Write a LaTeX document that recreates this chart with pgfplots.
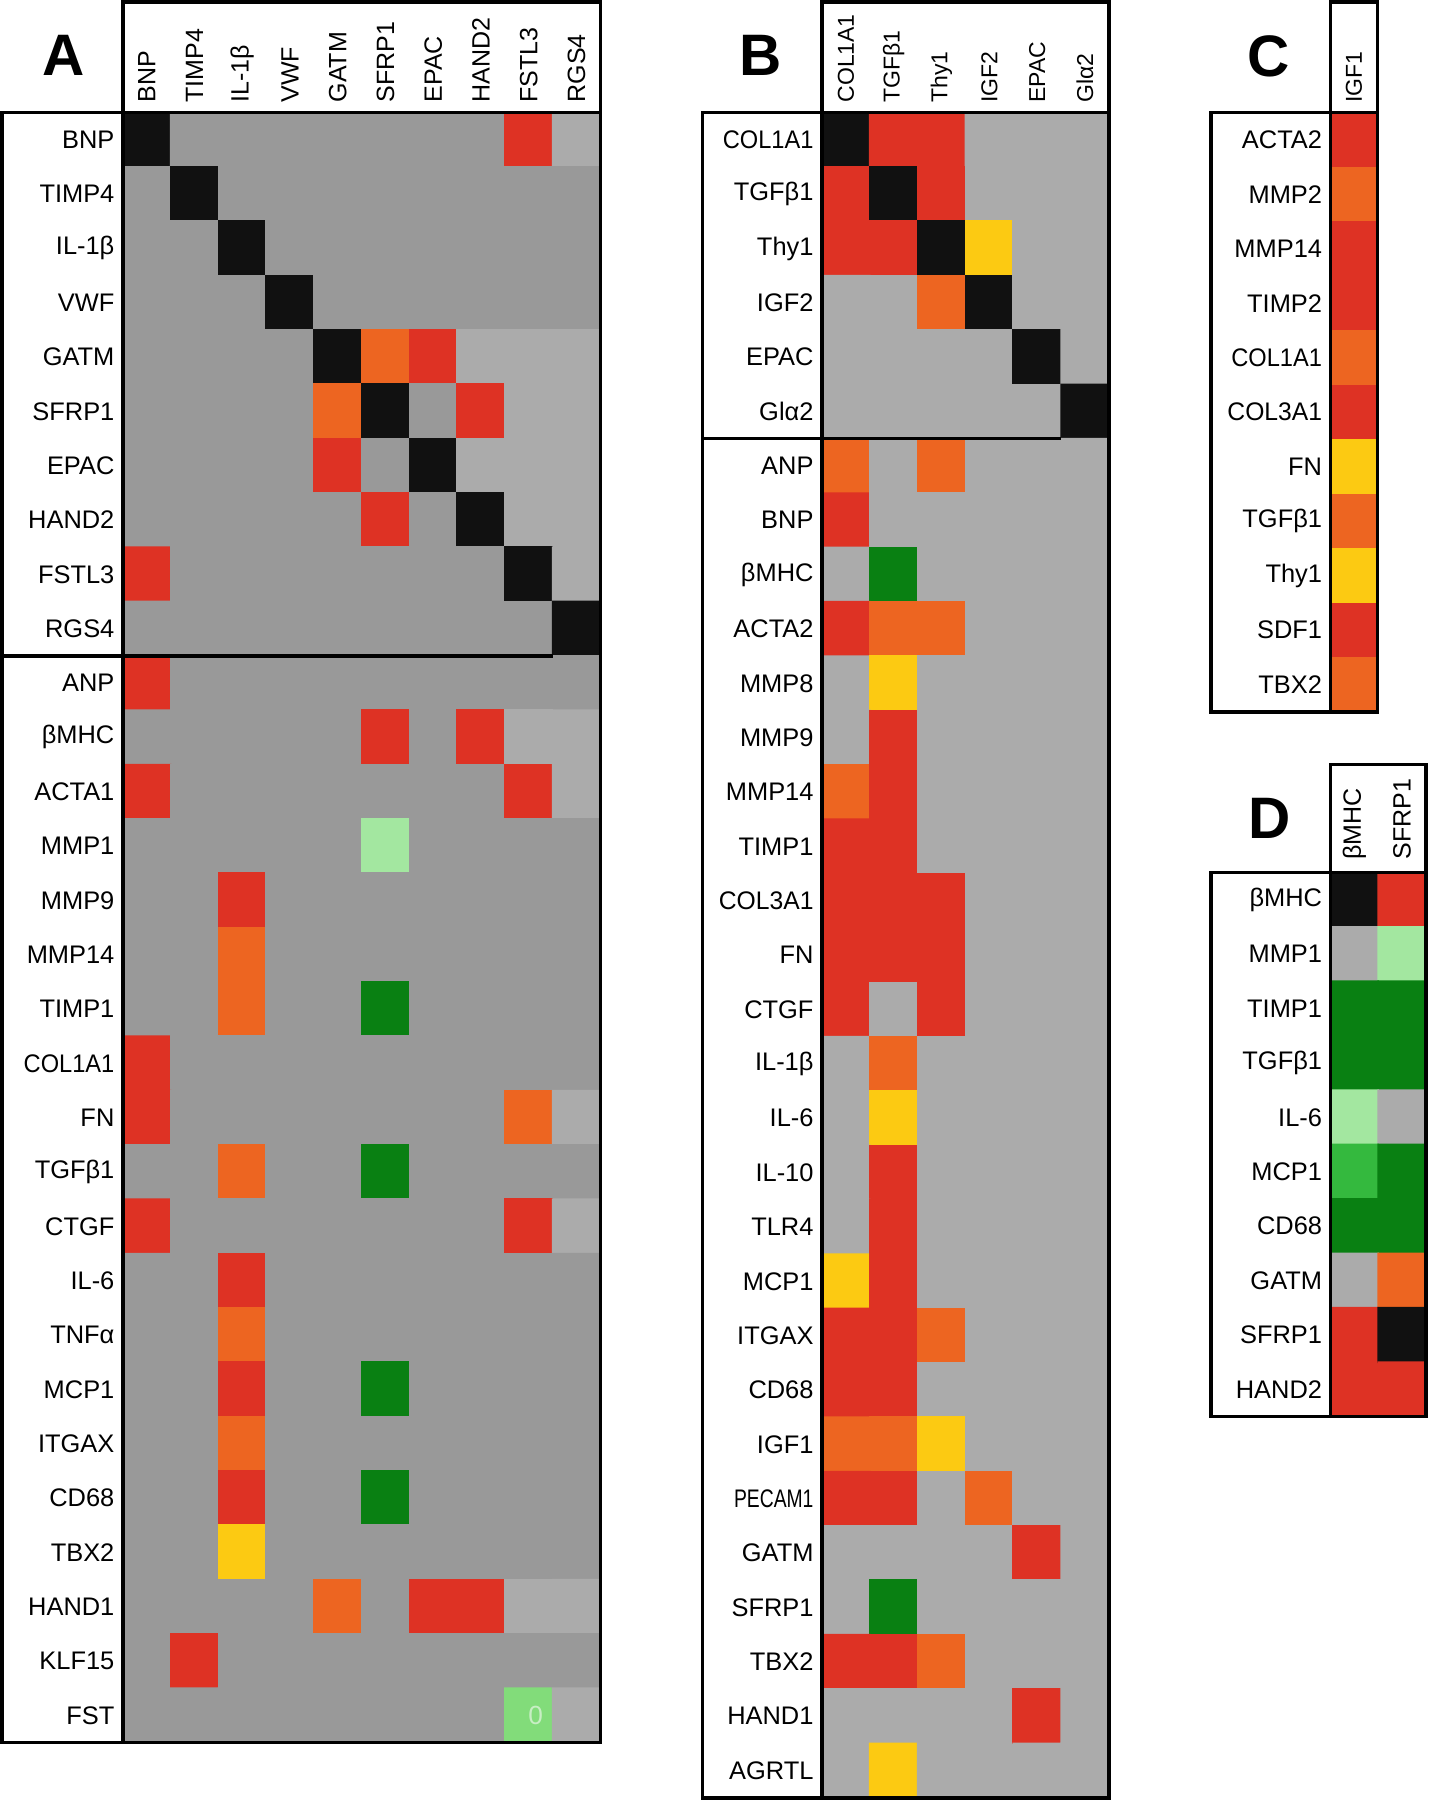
\documentclass[border=0pt]{standalone}
\usepackage{pgfplots}
\pgfplotsset{compat=1.18}
\usepackage{fontspec}
\setmainfont{Liberation Sans}
\definecolor{hred}{RGB}{222,50,36}
\definecolor{hora}{RGB}{237,101,33}
\definecolor{hyel}{RGB}{252,202,18}
\definecolor{zerotxt}{RGB}{200,238,196}
\newcommand{\sq}[2]{\scalebox{#1}[1]{#2}}
\pgfplotsset{
  hm/.style={
    scale only axis, axis on top, enlargelimits=false, y dir=reverse,
    axis line style={line width=0.9pt, black},
    major tick length=0pt, tick style={draw=none},
    xticklabel pos=upper,
    xticklabel style={rotate=90, anchor=west, inner xsep=0pt},
    xticklabel shift=2.3pt,
    yticklabel style={anchor=east, inner xsep=0pt, font=\fontsize{6.3}{7}\selectfont},
    yticklabel shift=1.9pt,
    colormap={hm}{rgb255=(153,153,153) rgb255=(171,171,171) rgb255=(17,17,17) rgb255=(222,50,36) rgb255=(237,101,33) rgb255=(252,202,18) rgb255=(9,128,18) rgb255=(163,231,160) rgb255=(52,185,62) rgb255=(130,220,122)},
    colormap access=direct,
  },
}
\begin{document}
\begin{tikzpicture}
\useasboundingbox (0,0) rectangle (124.4mm,-156.8mm);
% ---------------- Panel A ----------------
\begin{axis}[hm, at={(31.5mm,-80.8mm)}, anchor=center,
  width=41.6mm, height=142.0mm,
  xmin=-0.5, xmax=9.5, ymin=-0.5, ymax=29.5,
  xtick={0,...,9}, ytick={0,...,29},
  xticklabel style={font=\fontsize{6.2}{7}\selectfont},
  xticklabels={BNP,TIMP4,IL-1β,VWF,GATM,SFRP1,EPAC,HAND2,FSTL3,RGS4},
  yticklabels={BNP,TIMP4,IL-1β,VWF,GATM,SFRP1,EPAC,HAND2,FSTL3,RGS4,ANP,βMHC,ACTA1,MMP1,MMP9,MMP14,TIMP1,\sq{0.93}{COL1A1},FN,TGFβ1,CTGF,IL-6,TNFα,MCP1,ITGAX,CD68,TBX2,HAND1,KLF15,FST},
]
\addplot[matrix plot*, shader=flat corner, mesh/cols=10, point meta=explicit] coordinates {
(0,0)[2] (1,0)[0] (2,0)[0] (3,0)[0] (4,0)[0] (5,0)[0] (6,0)[0] (7,0)[0] (8,0)[3] (9,0)[1]
(0,1)[0] (1,1)[2] (2,1)[0] (3,1)[0] (4,1)[0] (5,1)[0] (6,1)[0] (7,1)[0] (8,1)[0] (9,1)[0]
(0,2)[0] (1,2)[0] (2,2)[2] (3,2)[0] (4,2)[0] (5,2)[0] (6,2)[0] (7,2)[0] (8,2)[0] (9,2)[0]
(0,3)[0] (1,3)[0] (2,3)[0] (3,3)[2] (4,3)[0] (5,3)[0] (6,3)[0] (7,3)[0] (8,3)[0] (9,3)[0]
(0,4)[0] (1,4)[0] (2,4)[0] (3,4)[0] (4,4)[2] (5,4)[4] (6,4)[3] (7,4)[1] (8,4)[1] (9,4)[1]
(0,5)[0] (1,5)[0] (2,5)[0] (3,5)[0] (4,5)[4] (5,5)[2] (6,5)[0] (7,5)[3] (8,5)[1] (9,5)[1]
(0,6)[0] (1,6)[0] (2,6)[0] (3,6)[0] (4,6)[3] (5,6)[0] (6,6)[2] (7,6)[1] (8,6)[1] (9,6)[1]
(0,7)[0] (1,7)[0] (2,7)[0] (3,7)[0] (4,7)[0] (5,7)[3] (6,7)[0] (7,7)[2] (8,7)[1] (9,7)[1]
(0,8)[3] (1,8)[0] (2,8)[0] (3,8)[0] (4,8)[0] (5,8)[0] (6,8)[0] (7,8)[0] (8,8)[2] (9,8)[1]
(0,9)[0] (1,9)[0] (2,9)[0] (3,9)[0] (4,9)[0] (5,9)[0] (6,9)[0] (7,9)[0] (8,9)[0] (9,9)[2]
(0,10)[3] (1,10)[0] (2,10)[0] (3,10)[0] (4,10)[0] (5,10)[0] (6,10)[0] (7,10)[0] (8,10)[0] (9,10)[0]
(0,11)[0] (1,11)[0] (2,11)[0] (3,11)[0] (4,11)[0] (5,11)[3] (6,11)[0] (7,11)[3] (8,11)[1] (9,11)[1]
(0,12)[3] (1,12)[0] (2,12)[0] (3,12)[0] (4,12)[0] (5,12)[0] (6,12)[0] (7,12)[0] (8,12)[3] (9,12)[1]
(0,13)[0] (1,13)[0] (2,13)[0] (3,13)[0] (4,13)[0] (5,13)[7] (6,13)[0] (7,13)[0] (8,13)[0] (9,13)[0]
(0,14)[0] (1,14)[0] (2,14)[3] (3,14)[0] (4,14)[0] (5,14)[0] (6,14)[0] (7,14)[0] (8,14)[0] (9,14)[0]
(0,15)[0] (1,15)[0] (2,15)[4] (3,15)[0] (4,15)[0] (5,15)[0] (6,15)[0] (7,15)[0] (8,15)[0] (9,15)[0]
(0,16)[0] (1,16)[0] (2,16)[4] (3,16)[0] (4,16)[0] (5,16)[6] (6,16)[0] (7,16)[0] (8,16)[0] (9,16)[0]
(0,17)[3] (1,17)[0] (2,17)[0] (3,17)[0] (4,17)[0] (5,17)[0] (6,17)[0] (7,17)[0] (8,17)[0] (9,17)[0]
(0,18)[3] (1,18)[0] (2,18)[0] (3,18)[0] (4,18)[0] (5,18)[0] (6,18)[0] (7,18)[0] (8,18)[4] (9,18)[1]
(0,19)[0] (1,19)[0] (2,19)[4] (3,19)[0] (4,19)[0] (5,19)[6] (6,19)[0] (7,19)[0] (8,19)[0] (9,19)[0]
(0,20)[3] (1,20)[0] (2,20)[0] (3,20)[0] (4,20)[0] (5,20)[0] (6,20)[0] (7,20)[0] (8,20)[3] (9,20)[1]
(0,21)[0] (1,21)[0] (2,21)[3] (3,21)[0] (4,21)[0] (5,21)[0] (6,21)[0] (7,21)[0] (8,21)[0] (9,21)[0]
(0,22)[0] (1,22)[0] (2,22)[4] (3,22)[0] (4,22)[0] (5,22)[0] (6,22)[0] (7,22)[0] (8,22)[0] (9,22)[0]
(0,23)[0] (1,23)[0] (2,23)[3] (3,23)[0] (4,23)[0] (5,23)[6] (6,23)[0] (7,23)[0] (8,23)[0] (9,23)[0]
(0,24)[0] (1,24)[0] (2,24)[4] (3,24)[0] (4,24)[0] (5,24)[0] (6,24)[0] (7,24)[0] (8,24)[0] (9,24)[0]
(0,25)[0] (1,25)[0] (2,25)[3] (3,25)[0] (4,25)[0] (5,25)[6] (6,25)[0] (7,25)[0] (8,25)[0] (9,25)[0]
(0,26)[0] (1,26)[0] (2,26)[5] (3,26)[0] (4,26)[0] (5,26)[0] (6,26)[0] (7,26)[0] (8,26)[0] (9,26)[0]
(0,27)[0] (1,27)[0] (2,27)[0] (3,27)[0] (4,27)[4] (5,27)[0] (6,27)[3] (7,27)[3] (8,27)[1] (9,27)[1]
(0,28)[0] (1,28)[3] (2,28)[0] (3,28)[0] (4,28)[0] (5,28)[0] (6,28)[0] (7,28)[0] (8,28)[0] (9,28)[0]
(0,29)[0] (1,29)[0] (2,29)[0] (3,29)[0] (4,29)[0] (5,29)[0] (6,29)[0] (7,29)[0] (8,29)[9] (9,29)[1]
};
\node[text=zerotxt, font=\fontsize{6.5}{7}\selectfont, xshift=0.6mm] at (axis cs:8,29) {0};
\end{axis}
% ---------------- Panel B ----------------
\begin{axis}[hm, at={(84.1mm,-83.2mm)}, anchor=center,
  width=25.0mm, height=146.8mm,
  xmin=-0.5, xmax=5.5, ymin=-0.5, ymax=30.5,
  xtick={0,...,5}, ytick={0,...,30},
  xticklabel style={font=\fontsize{5.7}{6}\selectfont},
  xticklabels={COL1A1,TGFβ1,Thy1,IGF2,EPAC,Glα2},
  yticklabels={\sq{0.93}{COL1A1},TGFβ1,Thy1,IGF2,EPAC,Glα2,ANP,BNP,βMHC,ACTA2,MMP8,MMP9,MMP14,TIMP1,\sq{0.97}{COL3A1},FN,CTGF,IL-1β,IL-6,IL-10,TLR4,MCP1,ITGAX,CD68,IGF1,\sq{0.76}{PECAM1},GATM,SFRP1,TBX2,HAND1,AGRTL},
]
\addplot[matrix plot*, shader=flat corner, mesh/cols=6, point meta=explicit] coordinates {
(0,0)[2] (1,0)[3] (2,0)[3] (3,0)[1] (4,0)[1] (5,0)[1]
(0,1)[3] (1,1)[2] (2,1)[3] (3,1)[1] (4,1)[1] (5,1)[1]
(0,2)[3] (1,2)[3] (2,2)[2] (3,2)[5] (4,2)[1] (5,2)[1]
(0,3)[1] (1,3)[1] (2,3)[4] (3,3)[2] (4,3)[1] (5,3)[1]
(0,4)[1] (1,4)[1] (2,4)[1] (3,4)[1] (4,4)[2] (5,4)[1]
(0,5)[1] (1,5)[1] (2,5)[1] (3,5)[1] (4,5)[1] (5,5)[2]
(0,6)[4] (1,6)[1] (2,6)[4] (3,6)[1] (4,6)[1] (5,6)[1]
(0,7)[3] (1,7)[1] (2,7)[1] (3,7)[1] (4,7)[1] (5,7)[1]
(0,8)[1] (1,8)[6] (2,8)[1] (3,8)[1] (4,8)[1] (5,8)[1]
(0,9)[3] (1,9)[4] (2,9)[4] (3,9)[1] (4,9)[1] (5,9)[1]
(0,10)[1] (1,10)[5] (2,10)[1] (3,10)[1] (4,10)[1] (5,10)[1]
(0,11)[1] (1,11)[3] (2,11)[1] (3,11)[1] (4,11)[1] (5,11)[1]
(0,12)[4] (1,12)[3] (2,12)[1] (3,12)[1] (4,12)[1] (5,12)[1]
(0,13)[3] (1,13)[3] (2,13)[1] (3,13)[1] (4,13)[1] (5,13)[1]
(0,14)[3] (1,14)[3] (2,14)[3] (3,14)[1] (4,14)[1] (5,14)[1]
(0,15)[3] (1,15)[3] (2,15)[3] (3,15)[1] (4,15)[1] (5,15)[1]
(0,16)[3] (1,16)[1] (2,16)[3] (3,16)[1] (4,16)[1] (5,16)[1]
(0,17)[1] (1,17)[4] (2,17)[1] (3,17)[1] (4,17)[1] (5,17)[1]
(0,18)[1] (1,18)[5] (2,18)[1] (3,18)[1] (4,18)[1] (5,18)[1]
(0,19)[1] (1,19)[3] (2,19)[1] (3,19)[1] (4,19)[1] (5,19)[1]
(0,20)[1] (1,20)[3] (2,20)[1] (3,20)[1] (4,20)[1] (5,20)[1]
(0,21)[5] (1,21)[3] (2,21)[1] (3,21)[1] (4,21)[1] (5,21)[1]
(0,22)[3] (1,22)[3] (2,22)[4] (3,22)[1] (4,22)[1] (5,22)[1]
(0,23)[3] (1,23)[3] (2,23)[1] (3,23)[1] (4,23)[1] (5,23)[1]
(0,24)[4] (1,24)[4] (2,24)[5] (3,24)[1] (4,24)[1] (5,24)[1]
(0,25)[3] (1,25)[3] (2,25)[1] (3,25)[4] (4,25)[1] (5,25)[1]
(0,26)[1] (1,26)[1] (2,26)[1] (3,26)[1] (4,26)[3] (5,26)[1]
(0,27)[1] (1,27)[6] (2,27)[1] (3,27)[1] (4,27)[1] (5,27)[1]
(0,28)[3] (1,28)[3] (2,28)[4] (3,28)[1] (4,28)[1] (5,28)[1]
(0,29)[1] (1,29)[1] (2,29)[1] (3,29)[1] (4,29)[3] (5,29)[1]
(0,30)[1] (1,30)[5] (2,30)[1] (3,30)[1] (4,30)[1] (5,30)[1]
};
\end{axis}
% ---------------- Panel C ----------------
\begin{axis}[hm, at={(117.95mm,-35.9mm)}, anchor=center,
  width=4.1mm, height=52.2mm,
  ybar stacked, bar width=1,
  xmin=-0.5, xmax=0.5, ymin=0, ymax=11,
  xtick={0}, ytick={0.5,1.5,...,10.5},
  xticklabel style={font=\fontsize{5.7}{6}\selectfont},
  xticklabels={IGF1},
  yticklabels={ACTA2,MMP2,MMP14,TIMP2,\sq{0.93}{COL1A1},\sq{0.97}{COL3A1},FN,TGFβ1,Thy1,SDF1,TBX2},
]
\addplot[fill=hred, draw=none] coordinates {(0,1)};
\addplot[fill=hora, draw=none] coordinates {(0,1)};
\addplot[fill=hred, draw=none] coordinates {(0,1)};
\addplot[fill=hred, draw=none] coordinates {(0,1)};
\addplot[fill=hora, draw=none] coordinates {(0,1)};
\addplot[fill=hred, draw=none] coordinates {(0,1)};
\addplot[fill=hyel, draw=none] coordinates {(0,1)};
\addplot[fill=hora, draw=none] coordinates {(0,1)};
\addplot[fill=hyel, draw=none] coordinates {(0,1)};
\addplot[fill=hred, draw=none] coordinates {(0,1)};
\addplot[fill=hora, draw=none] coordinates {(0,1)};
\end{axis}
% ---------------- Panel D ----------------
\begin{axis}[hm, at={(120.05mm,-99.7mm)}, anchor=center,
  width=8.3mm, height=47.4mm,
  xmin=-0.5, xmax=1.5, ymin=-0.5, ymax=9.5,
  xtick={0,1}, ytick={0,...,9},
  xticklabel style={font=\fontsize{6.2}{7}\selectfont},
  xticklabel shift=3pt,
  xticklabels={βMHC,SFRP1},
  yticklabels={βMHC,MMP1,TIMP1,TGFβ1,IL-6,MCP1,CD68,GATM,SFRP1,HAND2},
]
\addplot[matrix plot*, shader=flat corner, mesh/cols=2, point meta=explicit] coordinates {
(0,0)[2] (1,0)[3]
(0,1)[1] (1,1)[7]
(0,2)[6] (1,2)[6]
(0,3)[6] (1,3)[6]
(0,4)[7] (1,4)[1]
(0,5)[8] (1,5)[6]
(0,6)[6] (1,6)[6]
(0,7)[1] (1,7)[4]
(0,8)[3] (1,8)[2]
(0,9)[3] (1,9)[3]
};
\end{axis}
% ---------------- frames ----------------
\begin{scope}[line width=0.9pt]
\draw (0.2mm,-9.8mm) rectangle (10.7mm,-151.8mm);
\draw (10.7mm,-0.2mm) rectangle (52.3mm,-9.8mm);
\draw (0.2mm,-57.13mm) -- (48.14mm,-57.13mm);
\draw (61.2mm,-9.8mm) rectangle (71.6mm,-156.6mm);
\draw (71.6mm,-0.2mm) rectangle (96.6mm,-9.8mm);
\draw (61.2mm,-38.21mm) -- (92.43mm,-38.21mm);
\draw (105.5mm,-9.8mm) rectangle (115.9mm,-62.0mm);
\draw (115.9mm,-0.2mm) rectangle (120.0mm,-9.8mm);
\draw (105.5mm,-76.0mm) rectangle (115.9mm,-123.4mm);
\draw (115.9mm,-66.6mm) rectangle (124.2mm,-76.0mm);
\end{scope}
\node[font=\fontsize{14.5}{15}\selectfont\bfseries] at (5.5mm,-4.8mm) {A};
\node[font=\fontsize{14.5}{15}\selectfont\bfseries] at (66.3mm,-4.8mm) {B};
\node[font=\fontsize{14.5}{15}\selectfont\bfseries] at (110.5mm,-4.9mm) {C};
\node[font=\fontsize{14.5}{15}\selectfont\bfseries] at (110.6mm,-71.3mm) {D};
\end{tikzpicture}
\end{document}
